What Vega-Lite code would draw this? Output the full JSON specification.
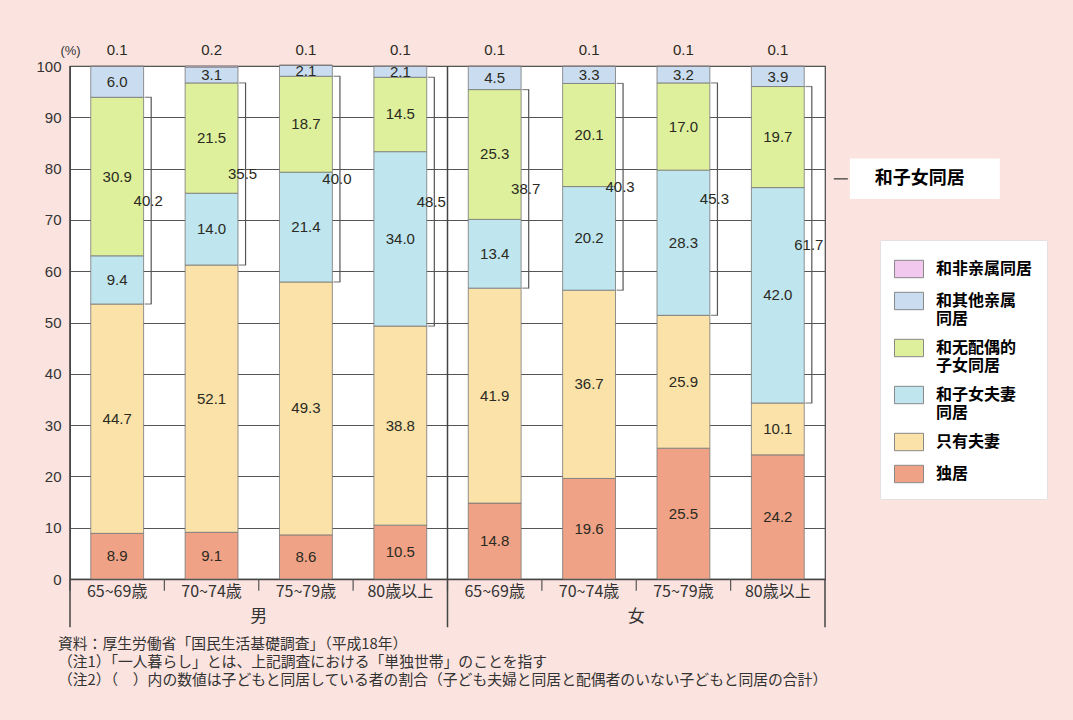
{
  "$schema": "https://vega.github.io/schema/vega-lite/v6.json",
  "width": 755,
  "height": 513,
  "autosize": {"type": "none"},
  "padding": {"left": 70, "top": 66, "right": 248, "bottom": 141},
  "background": "#fbe3df",
  "view": {"fill": "white", "stroke": "#444", "strokeWidth": 1.2},
  "config": {
    "font": "Liberation Sans",
    "text": {"font": "Liberation Sans", "fontSize": 15, "fill": "#2a2a22"}
  },
  "title": {
    "text": [
      "資料：厚生労働省「国民生活基礎調査」（平成18年）",
      "（注1）「一人暮らし」とは、上記調査における「単独世帯」のことを指す",
      "（注2）（　）内の数値は子どもと同居している者の割合（子ども夫婦と同居と配偶者のいない子どもと同居の合計）"
    ],
    "orient": "bottom",
    "anchor": "start",
    "frame": "group",
    "font": "Noto Sans CJK JP",
    "fontSize": 14.8,
    "fontWeight": "normal",
    "color": "#333",
    "lineHeight": 17.8,
    "offset": 9,
    "dx": -12
  },
  "datasets": {
    "main": [
      {"bar": "男|65~69歳", "cat": "独居", "v": 8.9},
      {"bar": "男|65~69歳", "cat": "只有夫妻", "v": 44.7},
      {"bar": "男|65~69歳", "cat": "和子女夫妻同居", "v": 9.4},
      {"bar": "男|65~69歳", "cat": "和无配偶的子女同居", "v": 30.9},
      {"bar": "男|65~69歳", "cat": "和其他亲属同居", "v": 6.0},
      {"bar": "男|65~69歳", "cat": "和非亲属同居", "v": 0.1},
      {"bar": "男|70~74歳", "cat": "独居", "v": 9.1},
      {"bar": "男|70~74歳", "cat": "只有夫妻", "v": 52.1},
      {"bar": "男|70~74歳", "cat": "和子女夫妻同居", "v": 14.0},
      {"bar": "男|70~74歳", "cat": "和无配偶的子女同居", "v": 21.5},
      {"bar": "男|70~74歳", "cat": "和其他亲属同居", "v": 3.1},
      {"bar": "男|70~74歳", "cat": "和非亲属同居", "v": 0.2},
      {"bar": "男|75~79歳", "cat": "独居", "v": 8.6},
      {"bar": "男|75~79歳", "cat": "只有夫妻", "v": 49.3},
      {"bar": "男|75~79歳", "cat": "和子女夫妻同居", "v": 21.4},
      {"bar": "男|75~79歳", "cat": "和无配偶的子女同居", "v": 18.7},
      {"bar": "男|75~79歳", "cat": "和其他亲属同居", "v": 2.1},
      {"bar": "男|75~79歳", "cat": "和非亲属同居", "v": 0.1},
      {"bar": "男|80歳以上", "cat": "独居", "v": 10.5},
      {"bar": "男|80歳以上", "cat": "只有夫妻", "v": 38.8},
      {"bar": "男|80歳以上", "cat": "和子女夫妻同居", "v": 34.0},
      {"bar": "男|80歳以上", "cat": "和无配偶的子女同居", "v": 14.5},
      {"bar": "男|80歳以上", "cat": "和其他亲属同居", "v": 2.1},
      {"bar": "男|80歳以上", "cat": "和非亲属同居", "v": 0.1},
      {"bar": "女|65~69歳", "cat": "独居", "v": 14.8},
      {"bar": "女|65~69歳", "cat": "只有夫妻", "v": 41.9},
      {"bar": "女|65~69歳", "cat": "和子女夫妻同居", "v": 13.4},
      {"bar": "女|65~69歳", "cat": "和无配偶的子女同居", "v": 25.3},
      {"bar": "女|65~69歳", "cat": "和其他亲属同居", "v": 4.5},
      {"bar": "女|65~69歳", "cat": "和非亲属同居", "v": 0.1},
      {"bar": "女|70~74歳", "cat": "独居", "v": 19.6},
      {"bar": "女|70~74歳", "cat": "只有夫妻", "v": 36.7},
      {"bar": "女|70~74歳", "cat": "和子女夫妻同居", "v": 20.2},
      {"bar": "女|70~74歳", "cat": "和无配偶的子女同居", "v": 20.1},
      {"bar": "女|70~74歳", "cat": "和其他亲属同居", "v": 3.3},
      {"bar": "女|70~74歳", "cat": "和非亲属同居", "v": 0.1},
      {"bar": "女|75~79歳", "cat": "独居", "v": 25.5},
      {"bar": "女|75~79歳", "cat": "只有夫妻", "v": 25.9},
      {"bar": "女|75~79歳", "cat": "和子女夫妻同居", "v": 28.3},
      {"bar": "女|75~79歳", "cat": "和无配偶的子女同居", "v": 17.0},
      {"bar": "女|75~79歳", "cat": "和其他亲属同居", "v": 3.2},
      {"bar": "女|75~79歳", "cat": "和非亲属同居", "v": 0.1},
      {"bar": "女|80歳以上", "cat": "独居", "v": 24.2},
      {"bar": "女|80歳以上", "cat": "只有夫妻", "v": 10.1},
      {"bar": "女|80歳以上", "cat": "和子女夫妻同居", "v": 42.0},
      {"bar": "女|80歳以上", "cat": "和无配偶的子女同居", "v": 19.7},
      {"bar": "女|80歳以上", "cat": "和其他亲属同居", "v": 3.9},
      {"bar": "女|80歳以上", "cat": "和非亲属同居", "v": 0.1}
    ],
    "totals": [
      {"bar": "男|65~69歳", "total": "40.2"},
      {"bar": "男|70~74歳", "total": "35.5"},
      {"bar": "男|75~79歳", "total": "40.0"},
      {"bar": "男|80歳以上", "total": "48.5"},
      {"bar": "女|65~69歳", "total": "38.7"},
      {"bar": "女|70~74歳", "total": "40.3"},
      {"bar": "女|75~79歳", "total": "45.3"},
      {"bar": "女|80歳以上", "total": "61.7"}
    ],
    "sexes": [
      {"sex": "男", "at": "男|75~79歳"},
      {"sex": "女", "at": "女|75~79歳"}
    ],
    "dividers": [
      {"at": "男|65~69歳"},
      {"at": "女|65~69歳"}
    ],
    "callout": [
      {"label": "和子女同居", "at": "女|80歳以上"}
    ]
  },
  "encoding": {
    "x": {
      "field": "bar",
      "type": "nominal",
      "scale": {
        "domain": ["男|65~69歳", "男|70~74歳", "男|75~79歳", "男|80歳以上", "女|65~69歳", "女|70~74歳", "女|75~79歳", "女|80歳以上"],
        "paddingInner": 0,
        "paddingOuter": 0
      },
      "axis": {
        "title": null,
        "labelExpr": "split(datum.label, '|')[1]",
        "labelAngle": 0,
        "labelFont": "Noto Sans CJK JP",
        "labelFontSize": 16,
        "labelColor": "#333",
        "labelPadding": 4,
        "ticks": false,
        "domainColor": "#444",
        "domainWidth": 1.5
      }
    }
  },
  "layer": [
    {
      "data": {"name": "main"},
      "transform": [
        {"calculate": "indexof(['独居','只有夫妻','和子女夫妻同居','和无配偶的子女同居','和其他亲属同居','和非亲属同居'], datum.cat)", "as": "ord"},
        {"stack": "v", "groupby": ["bar"], "sort": [{"field": "ord", "order": "ascending"}], "as": ["y0", "y1"]}
      ],
      "mark": {"type": "bar", "width": {"band": 0.56}, "stroke": "#777", "strokeWidth": 0.8},
      "encoding": {
        "y": {
          "field": "y0",
          "type": "quantitative",
          "scale": {"domain": [0, 100]},
          "axis": {
            "values": [0, 10, 20, 30, 40, 50, 60, 70, 80, 90, 100],
            "title": "(%)",
            "titleAngle": 0,
            "titleX": 0,
            "titleY": -16,
            "titleAlign": "center",
            "titleBaseline": "middle",
            "titleFont": "Liberation Sans",
            "titleFontSize": 13,
            "titleFontWeight": "normal",
            "titleColor": "#333",
            "grid": true,
            "gridColor": "#555",
            "gridWidth": 1.2,
            "domain": false,
            "ticks": false,
            "labelFontSize": 15,
            "labelColor": "#333",
            "labelPadding": 9
          }
        },
        "y2": {"field": "y1"},
        "color": {
          "field": "cat",
          "type": "nominal",
          "scale": {
            "domain": ["和非亲属同居", "和其他亲属同居", "和无配偶的子女同居", "和子女夫妻同居", "只有夫妻", "独居"],
            "range": ["#f3c8ee", "#c9dcf0", "#def09c", "#bfe5ee", "#fbe2a9", "#efa286"]
          },
          "legend": {
            "title": null,
            "orient": "none",
            "legendX": 810,
            "legendY": 174,
            "fillColor": "white",
            "strokeColor": "#e6e0e0",
            "padding": 14,
            "rowPadding": 6,
            "symbolType": "M-1,-0.6H1V0.6H-1Z",
            "symbolSize": 841,
            "symbolStrokeColor": "#888",
            "symbolStrokeWidth": 1,
            "symbolOpacity": 1,
            "labelFont": "Noto Sans CJK SC",
            "labelFontWeight": "bold",
            "labelFontSize": 16,
            "labelColor": "#000",
            "labelOffset": 12,
            "labelLimit": 200,
            "labelExpr": "datum.label == '和其他亲属同居' ? ['和其他亲属', '同居'] : datum.label == '和无配偶的子女同居' ? ['和无配偶的', '子女同居'] : datum.label == '和子女夫妻同居' ? ['和子女夫妻', '同居'] : datum.label",
            "encode": {"labels": {"update": {"lineHeight": {"value": 18}}}}
          }
        }
      }
    },
    {
      "data": {"name": "main"},
      "transform": [
        {"calculate": "indexof(['独居','只有夫妻','和子女夫妻同居','和无配偶的子女同居','和其他亲属同居','和非亲属同居'], datum.cat)", "as": "ord"},
        {"stack": "v", "groupby": ["bar"], "sort": [{"field": "ord", "order": "ascending"}], "as": ["y0", "y1"]},
        {"filter": "datum.cat != '和非亲属同居'"},
        {"calculate": "(datum.y0 + datum.y1) / 2", "as": "ym"}
      ],
      "mark": {"type": "text", "baseline": "middle"},
      "encoding": {
        "y": {"field": "ym", "type": "quantitative"},
        "text": {"field": "v", "type": "quantitative", "format": ".1f"}
      }
    },
    {
      "data": {"name": "main"},
      "transform": [{"filter": "datum.cat == '和非亲属同居'"}],
      "mark": {"type": "text", "baseline": "middle"},
      "encoding": {
        "y": {"datum": 103.1},
        "text": {"field": "v", "type": "quantitative", "format": ".1f"}
      }
    },
    {
      "data": {"name": "main"},
      "transform": [
        {"calculate": "(datum.cat == '独居' || datum.cat == '只有夫妻') ? datum.v : 0", "as": "lp"},
        {"calculate": "(datum.cat == '和子女夫妻同居' || datum.cat == '和无配偶的子女同居') ? datum.v : 0", "as": "mp"},
        {"aggregate": [{"op": "sum", "field": "lp", "as": "lo"}, {"op": "sum", "field": "mp", "as": "span"}], "groupby": ["bar"]},
        {"calculate": "datum.lo + datum.span", "as": "hi"},
        {"calculate": "datum.lo + datum.span / 2", "as": "mid"},
        {"lookup": "bar", "from": {"data": {"name": "totals"}, "key": "bar", "fields": ["total"]}}
      ],
      "layer": [
        {
          "mark": {"type": "rule", "xOffset": 34, "stroke": "#555", "strokeWidth": 1.2},
          "encoding": {"y": {"field": "lo", "type": "quantitative"}, "y2": {"field": "hi"}}
        },
        {
          "mark": {"type": "tick", "xOffset": 31, "size": 7, "thickness": 1.2, "color": "#555", "orient": "horizontal"},
          "encoding": {"y": {"field": "hi", "type": "quantitative"}}
        },
        {
          "mark": {"type": "tick", "xOffset": 31, "size": 7, "thickness": 1.2, "color": "#555", "orient": "horizontal"},
          "encoding": {"y": {"field": "lo", "type": "quantitative"}}
        },
        {
          "mark": {"type": "text", "xOffset": 31, "baseline": "middle"},
          "encoding": {"y": {"field": "mid", "type": "quantitative"}, "text": {"field": "total"}}
        },
        {
          "mark": {"type": "rule", "stroke": "#555", "strokeWidth": 1.2},
          "encoding": {"x": {"field": "bar", "bandPosition": 0}, "y": {"datum": 0}, "y2": {"datum": -2.3}}
        }
      ]
    },
    {
      "data": {"name": "dividers"},
      "mark": {"type": "rule", "stroke": "#444", "strokeWidth": 1.5},
      "encoding": {"x": {"field": "at", "bandPosition": 0}, "y": {"datum": 100}, "y2": {"datum": -9.4}}
    },
    {
      "data": {"name": "callout"},
      "mark": {"type": "rule", "stroke": "#444", "strokeWidth": 1.5},
      "encoding": {"x": {"field": "at", "bandPosition": 1}, "y": {"datum": 0}, "y2": {"datum": -9.4}}
    },
    {
      "data": {"name": "sexes"},
      "mark": {"type": "text", "font": "Noto Sans CJK JP", "fontSize": 17, "baseline": "middle", "fill": "#333"},
      "encoding": {"x": {"field": "at", "bandPosition": 0}, "y": {"datum": -7.4}, "text": {"field": "sex"}}
    },
    {
      "data": {"name": "callout"},
      "mark": {"type": "point", "shape": "M-1,-0.27H1V0.27H-1Z", "size": 22500, "filled": true, "fill": "white", "opacity": 1, "xOffset": 147, "strokeWidth": 0},
      "encoding": {"x": {"field": "at"}, "y": {"datum": 78}}
    },
    {
      "data": {"name": "callout"},
      "mark": {"type": "rule", "stroke": "#333", "strokeWidth": 1.2, "xOffset": 56, "x2Offset": 70},
      "encoding": {"x": {"field": "at"}, "x2": {"field": "at"}, "y": {"datum": 78}}
    },
    {
      "data": {"name": "callout"},
      "mark": {"type": "text", "font": "Noto Sans CJK SC", "fontSize": 18, "fontWeight": "bold", "fill": "#000", "baseline": "middle", "xOffset": 142},
      "encoding": {"x": {"field": "at"}, "y": {"datum": 78}, "text": {"field": "label"}}
    }
  ]
}
